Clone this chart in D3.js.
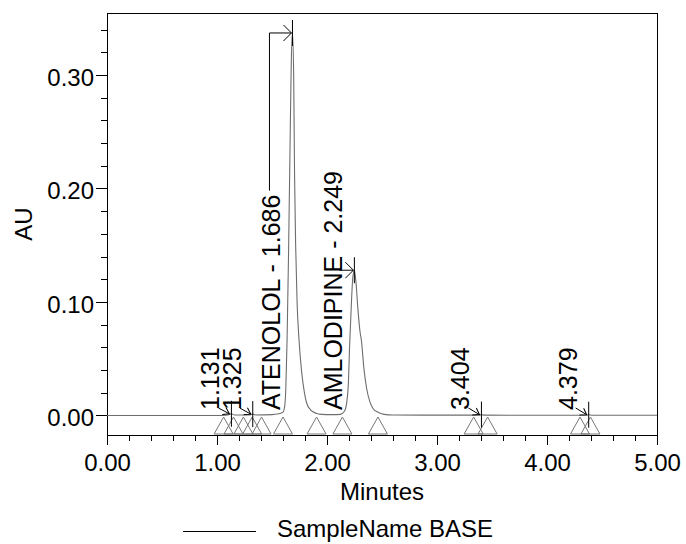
<!DOCTYPE html>
<html><head><meta charset="utf-8">
<script src="https://cdn.jsdelivr.net/npm/d3@7"></script>
<style>
html,body{margin:0;padding:0;background:#fff;}
text{font-family:"Liberation Sans",Arial,sans-serif;fill:#000;}
</style></head>
<body><svg id="c" width="686" height="544"></svg>
<script>
// ---- data ----
const traceTime = [0.00,0.50,1.00,1.10,1.131,1.16,1.30,1.325,1.35,1.50,1.56,1.600,1.615,1.625,1.637,1.650,1.663,1.675,1.686,1.697,1.705,1.715,1.728,1.746,1.770,1.795,1.815,1.850,1.900,1.950,2.050,2.120,2.160,2.180,2.195,2.205,2.220,2.235,2.249,2.263,2.280,2.300,2.313,2.335,2.360,2.390,2.420,2.460,2.520,2.600,3.000,3.380,3.404,3.430,4.000,4.350,4.379,4.410,5.000];
const traceAU   = [0.000,0.000,0.000,0.0005,0.0015,0.0005,0.0005,0.0012,0.0005,0.0008,0.0015,0.003,0.008,0.022,0.066,0.140,0.230,0.310,0.337,0.300,0.213,0.150,0.100,0.066,0.038,0.020,0.011,0.005,0.002,0.001,0.0008,0.001,0.004,0.012,0.030,0.060,0.095,0.122,0.128,0.118,0.095,0.074,0.066,0.042,0.024,0.012,0.006,0.003,0.001,0.0005,0.0003,0.0003,0.0008,0.0003,0.0002,0.0002,0.0007,0.0002,0.0002];
const peakRT    = [1.131,1.325,1.686,2.249,3.404,4.379];
const peakNames = ["","","ATENOLOL","AMLODIPINE","",""];
const peakAU    = [0.0015,0.0012,0.337,0.128,0.0008,0.0007];
const markerTimes = [1.06,1.15,1.24,1.32,1.405,1.60,1.905,2.14,2.463,3.333,3.46,4.30,4.395];
const xMajor = [0,1,2,3,4,5];
const yMajor = [0,0.1,0.2,0.3];
const xLabel = "Minutes", yLabel = "AU", legendLabel = "SampleName BASE";

// ---- layout ----
const svg = d3.select("#c");
const L=107, R=657, T=13, B=435;
const x = d3.scaleLinear().domain([0,5]).range([L,R]);
const y = d3.scaleLinear().domain([-0.01718,0.3546]).range([B,T]);

// markers
const defs = svg.append("defs");
defs.append("marker").attr("id","arrBig").attr("markerUnits","userSpaceOnUse")
  .attr("viewBox","-9 -9 18 18").attr("refX",0).attr("refY",0)
  .attr("markerWidth",18).attr("markerHeight",18).attr("orient","auto")
  .append("path").attr("d","M-8,-8 L0,0 L-8,8").attr("fill","none").attr("stroke","#000").attr("stroke-width",1);
defs.append("marker").attr("id","arrSm").attr("markerUnits","userSpaceOnUse")
  .attr("viewBox","-9 -9 18 18").attr("refX",0).attr("refY",0)
  .attr("markerWidth",18).attr("markerHeight",18).attr("orient","auto")
  .append("path").attr("d","M-6,-4 L0,0 L-6,4").attr("fill","none").attr("stroke","#000").attr("stroke-width",1);

// axes
const xMinorAxis = d3.axisBottom(x).tickValues(d3.range(0,5.001,0.2)).tickSize(6).tickFormat("");
const xMajorAxis = d3.axisBottom(x).tickValues(xMajor).tickSize(10).tickPadding(9).tickFormat(d3.format(".2f"));
const yMinorAxis = d3.axisLeft(y).tickValues(d3.range(0,0.3501,0.02)).tickSize(6).tickFormat("");
const yMajorAxis = d3.axisLeft(y).tickValues(yMajor).tickSize(11).tickPadding(2).tickFormat(d3.format(".2f"));

function styleAxis(g){ g.select(".domain").remove(); g.selectAll("line").attr("stroke","#000").attr("shape-rendering","crispEdges");
  g.selectAll("text").style("font-size","24px").attr("fill","#000"); }
svg.append("g").attr("transform",`translate(0,${B})`).call(xMinorAxis).call(styleAxis);
svg.append("g").attr("transform",`translate(0,${B})`).call(xMajorAxis).call(styleAxis);
svg.append("g").attr("transform",`translate(${L},0)`).call(yMinorAxis).call(styleAxis);
const gy = svg.append("g").attr("transform",`translate(${L},0)`).call(yMajorAxis).call(styleAxis);
gy.selectAll("text").attr("dy","0.42em");

// frame
svg.append("rect").attr("x",L+0.5).attr("y",T+0.5).attr("width",R-L).attr("height",B-T)
  .attr("fill","none").attr("stroke","#000").attr("stroke-width",1);

// trace
const line = d3.line().x((d,i)=>x(traceTime[i])).y((d,i)=>y(traceAU[i])).curve(d3.curveMonotoneX);
svg.append("path").datum(traceAU).attr("d",line).attr("fill","none").attr("stroke","#6e6e6e").attr("stroke-width",1.1);

// start/end triangles
const tri = svg.append("g");
markerTimes.forEach(t=>{
  const cx = x(t);
  tri.append("path").attr("d",`M${cx-9.5},${B-1} L${cx},${B-18} L${cx+9.5},${B-1} Z`)
    .attr("fill","none").attr("stroke","#777").attr("stroke-width",1);
});

// peak markers & labels
const lab = svg.append("g");
peakRT.forEach((rt,i)=>{
  const px = x(rt), py = y(peakAU[i]);
  lab.append("line").attr("x1",px).attr("x2",px).attr("y1",py-13).attr("y2",py+13).attr("stroke","#000").attr("stroke-width",1);
  const txt = peakNames[i] ? `${peakNames[i]} - ${rt.toFixed(3)}` : rt.toFixed(3);
  const xc = px - 21, yb = 410;
  const t = lab.append("text").attr("transform",`translate(${xc+9},${yb}) rotate(-90)`)
    .style("font-size","25px").text(txt);
  const len = t.node().getComputedTextLength();
  const top = yb - len;
  if (py < top) {
    lab.append("path").attr("d",`M${xc-2},${top-4} L${xc-2},${py} L${px-1},${py}`)
      .attr("fill","none").attr("stroke","#000").attr("marker-end","url(#arrBig)");
  } else if (py < yb) {
    lab.append("path").attr("d",`M${xc+6},${py} L${px-1},${py}`)
      .attr("fill","none").attr("stroke","#000").attr("marker-end","url(#arrBig)");
  } else {
    lab.append("path").attr("d",`M${xc+8},${yb-2} L${px-2},${py}`)
      .attr("fill","none").attr("stroke","#000").attr("marker-end","url(#arrSm)");
  }
});

// axis titles
svg.append("text").attr("x",(L+R)/2).attr("y",500).attr("text-anchor","middle").style("font-size","24px").text(xLabel);
svg.append("text").attr("transform",`translate(32,224) rotate(-90)`).attr("text-anchor","middle").style("font-size","24px").text(yLabel);

// legend
svg.append("line").attr("x1",183).attr("x2",256).attr("y1",531.5).attr("y2",531.5).attr("stroke","#000");
svg.append("text").attr("x",277).attr("y",537).style("font-size","24px").text(legendLabel);
</script></body></html>
